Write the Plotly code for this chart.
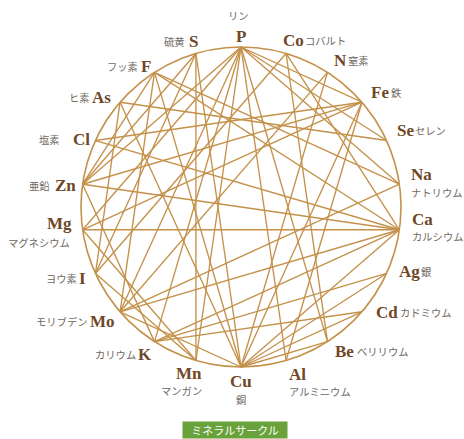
import numpy as np
import plotly.graph_objects as go

# ---- data ----
symbols = ["P", "Co", "N", "Fe", "Se", "Na", "Ca", "Ag", "Cd", "Be", "Al",
           "Cu", "Mn", "K", "Mo", "I", "Mg", "Zn", "Cl", "As", "F", "S"]
names_ja = ["リン", "コバルト", "窒素", "鉄", "セレン", "ナトリウム", "カルシウム", "銀",
            "カドミウム", "ベリリウム", "アルミニウム", "銅", "マンガン", "カリウム",
            "モリブデン", "ヨウ素", "マグネシウム", "亜鉛", "塩素", "ヒ素", "フッ素", "硫黄"]
edges = [
    ("P", "Fe"), ("P", "Se"), ("P", "Na"), ("P", "Be"), ("P", "Al"),
    ("P", "Mn"), ("P", "K"), ("P", "Mo"), ("P", "Mg"), ("P", "Zn"),
    ("S", "Zn"), ("S", "I"), ("S", "Cu"), ("S", "Mn"),
    ("F", "Zn"), ("F", "Na"), ("F", "Cu"), ("F", "Mo"), ("F", "Ca"),
    ("As", "Se"), ("As", "I"), ("As", "Cu"),
    ("Cl", "Ca"), ("Cl", "Fe"),
    ("Co", "I"), ("Co", "Be"), ("Co", "Ca"),
    ("N", "Mo"), ("N", "Cu"),
    ("Fe", "Zn"), ("Fe", "Cu"), ("Fe", "Al"), ("Fe", "Mg"),
    ("Na", "Mo"),
    ("Ca", "Zn"), ("Ca", "Mg"), ("Ca", "K"), ("Ca", "Cu"), ("Ca", "Mo"),
    ("Ag", "Cu"), ("Ag", "K"), ("Cd", "Cu"), ("Cd", "K"),
    ("Be", "Cu"), ("Mg", "Mn"), ("Zn", "K"), ("Mo", "Cu"), ("I", "Mn"),
]
title_text = "ミネラルサークル"

# ---- node positions: evenly spaced, P on top, clockwise ----
n = len(symbols)
ang = np.pi / 2 - np.arange(n) * 2 * np.pi / n
nx = np.cos(ang)
ny = np.sin(ang)
idx = {s: i for i, s in enumerate(symbols)}

LINE = "#c4914a"
SYM = "#6e4827"
JA = "#6f6862"
SYMFONT = "Liberation Serif"
JAFONT = "Noto Sans CJK JP"

fig = go.Figure()

ex, ey = [], []
for a, b in edges:
    ex += [nx[idx[a]], nx[idx[b]], None]
    ey += [ny[idx[a]], ny[idx[b]], None]
fig.add_trace(go.Scatter(x=ex, y=ey, mode="lines",
                         line=dict(color=LINE, width=1.35),
                         hoverinfo="skip", showlegend=False))

fig.add_shape(type="circle", xref="x", yref="y", x0=-1, y0=-1, x1=1, y1=1,
              line=dict(color=LINE, width=1.6), layer="above")

# label styles: (mode, sym dx, sym dy, ja dx, ja dy) in pixels (dy downward)
label_style = {
    "P":  ("above", 0, -11, -3, -32),
    "Co": ("right", -5, -13, 17, -13),
    "N":  ("right", 4, -12, 18, -12),
    "Fe": ("right", 7, -10, 27, -10),
    "Se": ("right", 8, -10, 26, -10),
    "Na": ("rstack", 10, -10, 10, 8),
    "Ca": ("rstack", 11, -10, 11, 7),
    "Ag": ("right", 10, -2, 32, -2),
    "Cd": ("right", 12, 1, 36, 1),
    "Be": ("right", 5, 10, 27, 10),
    "Al": ("rstack", 1, 14, 1, 31),
    "Cu": ("below", 0, 14, 0, 32),
    "Mn": ("lstack", 8, 13, 8, 30),
    "K":  ("left", -1, 13, -17, 13),
    "Mo": ("left", -3, 10, -31, 10),
    "I":  ("left", -7, 5, -16, 5),
    "Mg": ("lstack", -9, -6, -11, 13),
    "Zn": ("left", -5, 1, -31, 1),
    "Cl": ("left", -3, -1, -33, -1),
    "As": ("left", -7, -5, -28, -5),
    "F":  ("left", -2, -6, -15, -6),
    "S":  ("left", 4, -12, -9, -12),
}

for i, s in enumerate(symbols):
    mode, sdx, sdy, jdx, jdy = label_style[s]
    if mode in ("right", "rstack"):
        sxa, jxa = "left", "left"
    elif mode in ("left", "lstack"):
        sxa, jxa = "right", "right"
    else:
        sxa, jxa = "center", "center"
    fig.add_annotation(x=nx[i], y=ny[i], text="<b>%s</b>" % s, showarrow=False,
                       xanchor=sxa, yanchor="middle", xshift=sdx, yshift=-sdy,
                       font=dict(family=SYMFONT, size=17, color=SYM))
    fig.add_annotation(x=nx[i], y=ny[i], text=names_ja[i], showarrow=False,
                       xanchor=jxa, yanchor="middle", xshift=jdx, yshift=-jdy,
                       font=dict(family=JAFONT, size=10.3, color=JA))

fig.add_annotation(xref="paper", yref="paper", x=0.506, y=0.021,
                   text=title_text, showarrow=False, xanchor="center", yanchor="middle",
                   bgcolor="#69a23a", width=104, height=16, borderpad=0,
                   font=dict(family=JAFONT, size=11, color="white"))

S = 160.0
fig.update_layout(
    width=464, height=439, autosize=False,
    margin=dict(l=0, r=0, t=0, b=0),
    paper_bgcolor="white", plot_bgcolor="white",
    xaxis=dict(range=[-241 / S, 223 / S], visible=False, fixedrange=True),
    yaxis=dict(range=[-232 / S, 207 / S], visible=False, fixedrange=True),
    showlegend=False,
)

fig.write_html("out.html", config={"displayModeBar": False},
               post_script="document.body.style.margin='0';")
